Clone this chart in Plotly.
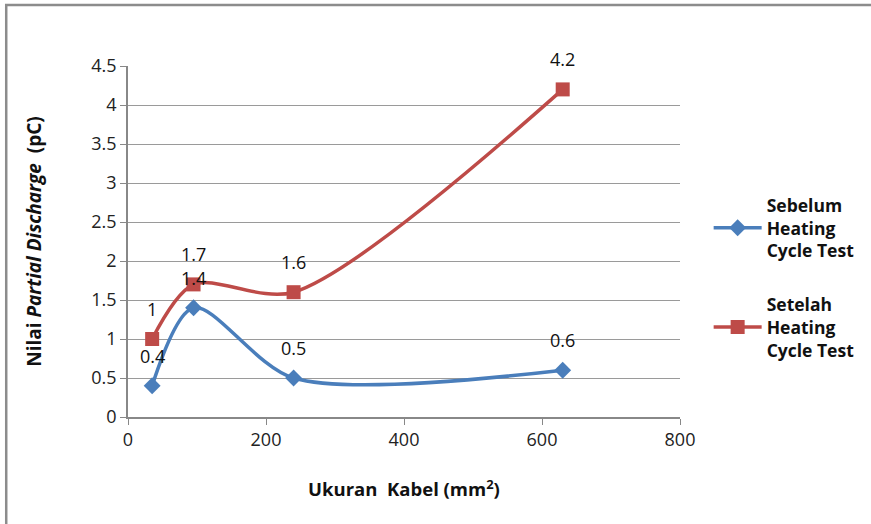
import plotly.graph_objects as go

# Cable cross-section (mm²) and partial discharge readings (pC)
ukuran_kabel = [35, 95, 240, 630]
sebelum = [0.4, 1.4, 0.5, 0.6]
setelah = [1.0, 1.7, 1.6, 4.2]
label_sebelum = ["0.4", "1.4", "0.5", "0.6"]
label_setelah = ["1", "1.7", "1.6", "4.2"]

x_ticks = [0, 200, 400, 600, 800]
y_ticks = [0, 0.5, 1, 1.5, 2, 2.5, 3, 3.5, 4, 4.5]

BLUE = "#4A7EBB"
RED = "#BE4B48"
FONT = "Open Sans"

fig = go.Figure()

fig.add_trace(go.Scatter(
    x=ukuran_kabel, y=sebelum, mode="lines+markers",
    name="Sebelum<br>Heating<br>Cycle Test", legendgroup="a",
    line=dict(color=BLUE, width=3.5, shape="spline", smoothing=0.85),
    marker=dict(symbol="diamond", size=13, color=BLUE),
))
fig.add_trace(go.Scatter(
    x=ukuran_kabel, y=setelah, mode="lines+markers",
    name="Setelah<br>Heating<br>Cycle Test", legendgroup="b",
    line=dict(color=RED, width=3.5, shape="spline", smoothing=0.85),
    marker=dict(symbol="square", size=14, color=RED),
))

# Value labels above each point
for xs, ys, labels in [(ukuran_kabel, sebelum, label_sebelum),
                       (ukuran_kabel, setelah, label_setelah)]:
    for xv, yv, t in zip(xs, ys, labels):
        fig.add_annotation(x=xv, y=yv, text=t, showarrow=False,
                           yshift=30, font=dict(family=FONT, size=18, color="#111"))

# Outer chart frame
fig.add_shape(type="rect", xref="paper", yref="paper",
              x0=-0.2206, x1=1.40, y0=-0.40, y1=1.1738,
              line=dict(color="#8c8c8c", width=2.5), fillcolor="rgba(0,0,0,0)")

fig.update_layout(
    width=871, height=524,
    margin=dict(l=128, r=190, t=66, b=107),
    paper_bgcolor="white", plot_bgcolor="white",
    font=dict(family=FONT, size=17, color="#222"),
    showlegend=True,
    legend=dict(x=1.05, y=0.655, xanchor="left", yanchor="top",
                font=dict(family=FONT, size=17.5, color="#111", weight="bold"),
                tracegroupgap=28, itemwidth=48, bgcolor="rgba(0,0,0,0)"),
    xaxis=dict(range=[0, 800], tickvals=x_ticks, showgrid=False,
               showline=True, linecolor="#888", linewidth=1.5,
               ticks="outside", ticklen=6, tickcolor="#888",
               tickfont=dict(family=FONT, size=18, color="#222"),
               zeroline=False,
               title=dict(text="<b>Ukuran  Kabel (mm<sup>2</sup>)</b>",
                          font=dict(family=FONT, size=18.5, color="#111"), standoff=33)),
    yaxis=dict(range=[0, 4.5], tickvals=y_ticks, showgrid=True,
               gridcolor="#9a9a9a", gridwidth=1.2,
               showline=True, linecolor="#888", linewidth=1.5,
               ticks="outside", ticklen=6, tickcolor="#888",
               tickfont=dict(family=FONT, size=18, color="#222"),
               zeroline=False,
               title=dict(text="<b>Nilai <i>Partial Discharge</i>  (pC)</b>",
                          font=dict(family=FONT, size=19, color="#111"), standoff=45)),
)

fig.write_html("out.html")
